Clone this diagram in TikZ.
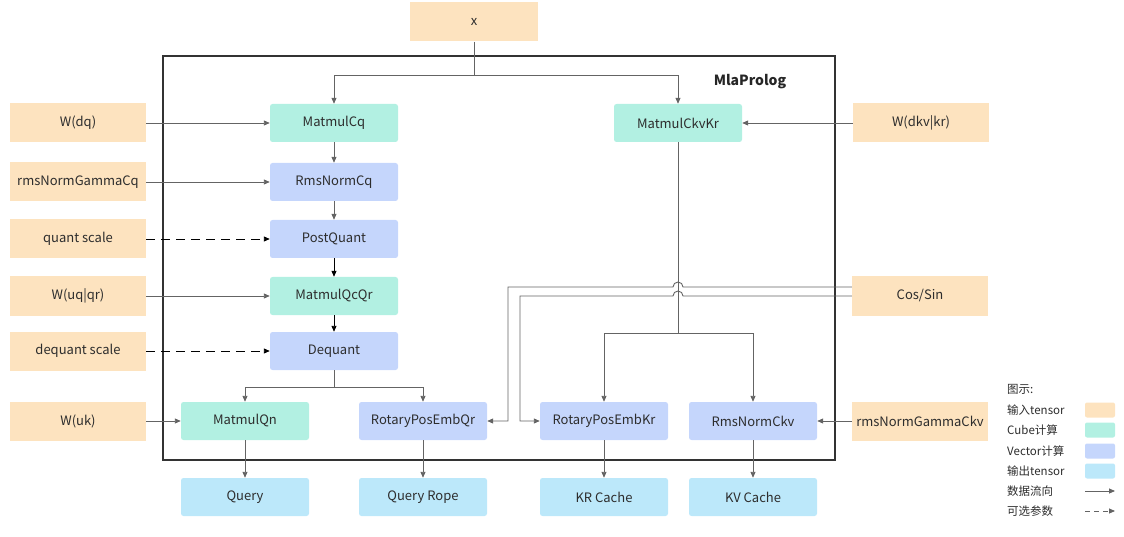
\documentclass[tikz,border=0pt]{standalone}
\usepackage{fontspec}
\setmainfont{Noto Sans CJK SC}
\usetikzlibrary{arrows.meta,positioning}
\definecolor{intensor}{RGB}{253,227,191}
\definecolor{cubefill}{RGB}{178,240,226}
\definecolor{vecfill}{RGB}{197,214,252}
\definecolor{outtensor}{RGB}{188,232,250}
\definecolor{linegray}{RGB}{100,100,100}
\definecolor{txtgray}{RGB}{45,45,45}
\tikzset{
  box/.style={rounded corners=2.5pt,minimum width=128pt,minimum height=38pt,inner sep=0pt,text=txtgray,font=\fontsize{13}{15}\selectfont},
  inbox/.style={box,fill=intensor,rounded corners=0pt,minimum width=136pt,minimum height=39pt},
  cubenode/.style={box,fill=cubefill},
  vecnode/.style={box,fill=vecfill},
  outnode/.style={box,fill=outtensor},
  flow/.style={linegray,line width=0.9pt,-{Triangle[length=6pt,width=5pt]}},
  flowk/.style={black,line width=0.9pt,-{Triangle[length=6pt,width=5pt]}},
  optflow/.style={black,line width=0.9pt,dash pattern=on 9pt off 6pt,-{Triangle[length=6pt,width=5pt]}},
  legtext/.style={anchor=west,inner sep=0pt,text=txtgray,font=\fontsize{11.5}{13}\selectfont},
  legbox/.style={rounded corners=2pt,minimum width=30pt,minimum height=15pt,inner sep=0pt}
}

\begin{document}
\begin{tikzpicture}[x=1pt,y=-1pt]
\useasboundingbox (0,0) rectangle (1124,537);
\draw[black!80,line width=1.1pt] (163,56) rectangle (835,460);
\node[font=\fontsize{14}{16}\selectfont\bfseries,text=black!85] (title) at (750,82) {MlaProlog};

\node[inbox,minimum width=128pt] (x) at (474,22) {x};
\node[cubenode] (mcq) at (334,123) {MatmulCq};
\node[cubenode] (mckv) at (678,123) {MatmulCkvKr};
\node[vecnode] (rnq) at (334,182) {RmsNormCq};
\node[vecnode] (pq) at (334,239) {PostQuant};
\node[cubenode] (mqcqr) at (334,296) {MatmulQcQr};
\node[vecnode] (dq) at (334,351) {Dequant};
\node[cubenode] (mqn) at (245,421) {MatmulQn};
\node[vecnode] (rqr) at (423,421) {RotaryPosEmbQr};
\node[vecnode] (rkr) at (604,421) {RotaryPosEmbKr};
\node[vecnode] (rnckv) at (753,421) {RmsNormCkv};

\node[inbox] (wdq) at (78,123) {W(dq)};
\node[inbox] (gcq) at (78,182) {rmsNormGammaCq};
\node[inbox] (qs) at (78,239) {quant scale};
\node[inbox] (wuq) at (78,296) {W(uq|qr)};
\node[inbox] (dqs) at (78,351) {dequant scale};
\node[inbox] (wuk) at (78,421) {W(uk)};
\node[inbox] (wdkv) at (921,123) {W(dkv|kr)};
\node[inbox] (cos) at (920,296) {Cos/Sin};
\node[inbox] (gckv) at (920,421) {rmsNormGammaCkv};

\node[outnode] (query) at (245,497) {Query};
\node[outnode] (qrope) at (423,497) {Query Rope};
\node[outnode] (krc) at (604,497) {KR Cache};
\node[outnode] (kvc) at (753,497) {KV Cache};

\coordinate (xsplit) at (474,75);
\draw[linegray,line width=0.9pt] (x.south) -- (xsplit);
\draw[flow] (xsplit) -| (mcq.north);
\draw[flow] (xsplit) -| (mckv.north);
\draw[flow] (wdq) -- (mcq);
\draw[flow] (wdkv) -- (mckv);
\draw[flow] (mcq) -- (rnq);
\draw[flow] (gcq) -- (rnq);
\draw[flow] (rnq) -- (pq);
\draw[optflow] (qs) -- (pq);
\draw[flowk] (pq) -- (mqcqr);
\draw[flow] (wuq) -- (mqcqr);
\draw[flowk] (mqcqr) -- (dq);
\draw[optflow] (dqs) -- (dq);
\coordinate (dqsplit) at (334,387);
\draw[linegray,line width=0.9pt] (dq.south) -- (dqsplit);
\draw[flow] (dqsplit) -| (mqn.north);
\draw[flow] (dqsplit) -| (rqr.north);
\draw[flow] (wuk) -- (mqn);
\coordinate (ckvsplit) at (678,333);
\draw[linegray,line width=0.9pt] (mckv.south) -- (ckvsplit);
\draw[flow] (ckvsplit) -| (rkr.north);
\draw[flow] (ckvsplit) -| (rnckv.north);
\draw[flow] ([yshift=9pt]cos.west) -- (683,287) arc[start angle=0,end angle=-180,radius=5] -- (508,287) |- (rqr.east);
\draw[flow] (cos.west) -- (683,296) arc[start angle=0,end angle=-180,radius=5] -- (520,296) |- (rkr.west);
\draw[flow] (gckv) -- (rnckv);
\draw[flow] (mqn) -- (query);
\draw[flow] (rqr) -- (qrope);
\draw[flow] (rkr) -- (krc);
\draw[flow] (rnckv) -- (kvc);

\node[legtext] (lgtitle) at (1007,389) {图示:};
\node[legtext] (lgin) at (1007,410) {输入tensor};
\node[legtext] (lgcube) at (1007,430) {Cube计算};
\node[legtext] (lgvec) at (1007,451) {Vector计算};
\node[legtext] (lgout) at (1007,471) {输出tensor};
\node[legtext] (lgflow) at (1007,491) {数据流向};
\node[legtext] (lgopt) at (1007,511) {可选参数};
\node[legbox,fill=intensor] (lgbin) at (1100,410) {};
\node[legbox,fill=cubefill] (lgbcube) at (1100,430) {};
\node[legbox,fill=vecfill] (lgbvec) at (1100,451) {};
\node[legbox,fill=outtensor] (lgbout) at (1100,471) {};
\coordinate (lgfa) at (1085,491);
\coordinate (lgfb) at (1115,491);
\coordinate (lgoa) at (1085,511);
\coordinate (lgob) at (1115,511);
\draw[flow] (lgfa) -- (lgfb);
\draw[linegray,line width=0.9pt,dash pattern=on 5pt off 4pt,-{Triangle[length=6pt,width=5pt]}] (lgoa) -- (lgob);
\end{tikzpicture}
\end{document}
